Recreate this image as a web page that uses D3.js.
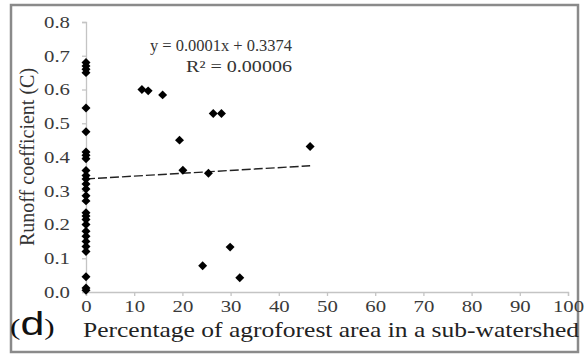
<!DOCTYPE html>
<html>
<head>
<meta charset="utf-8">
<script src="https://cdn.jsdelivr.net/npm/d3@7/dist/d3.min.js"></script>
<style>
  body { margin: 0; background: #fff; }
  svg { display: block; }
</style>
</head>
<body>
<svg id="chart" width="585" height="359"></svg>
<script>
// agroforest share (%) and runoff coefficient
const agroX = [
  0, 0, 0, 0, 0, 0, 0, 0, 0, 0, 0, 0, 0, 0, 0, 0, 0, 0, 0, 0, 0, 0, 0, 0, 0, 0, 0, 0,
  11.6, 12.9, 15.9, 26.4, 28.1, 19.4, 20.1, 25.4, 46.5, 29.9, 24.2, 31.9
];
const runoffC = [
  0.68, 0.67, 0.66, 0.65, 0.545, 0.475, 0.415, 0.405, 0.395, 0.36, 0.345, 0.335,
  0.32, 0.305, 0.285, 0.27, 0.235, 0.225, 0.215, 0.20, 0.18, 0.165, 0.15, 0.135,
  0.12, 0.045, 0.012, 0.005,
  0.600, 0.596, 0.584, 0.529, 0.529, 0.450, 0.361, 0.352, 0.431, 0.133, 0.078, 0.042
];

// trend line endpoints as drawn
const trendX = [0, 46.5];
const trendY = [0.335, 0.374];

const xTicks = [0, 10, 20, 30, 40, 50, 60, 70, 80, 90, 100];
const yTicks = [0, 0.1, 0.2, 0.3, 0.4, 0.5, 0.6, 0.7, 0.8];

const eqText = "y = 0.0001x + 0.3374";
const r2Text = "R² = 0.00006";

const svg = d3.select("#chart");
const SERIF = "Liberation Serif";
const SANS = "Liberation Sans";
const STRETCH = 1.3; // the source picture is squeezed wide

// outer frame
svg.append("rect")
    .attr("x", 11).attr("y", 5)
    .attr("width", 567).attr("height", 347)
    .attr("fill", "none")
    .attr("stroke", "#8a8a8a")
    .attr("stroke-width", 2.5);

const x = d3.scaleLinear().domain([0, 100]).range([86, 568]);
const y = d3.scaleLinear().domain([0, 0.8]).range([292, 22]);

// axes
const yAxis = svg.append("g")
    .attr("transform", `translate(${x(0)},0)`)
    .call(d3.axisLeft(y).tickValues(yTicks).tickSize(4).tickFormat(d3.format(".1f")));

const xAxis = svg.append("g")
    .attr("transform", `translate(0,${y(0)})`)
    .call(d3.axisBottom(x).tickValues(xTicks).tickSize(4));

[xAxis, yAxis].forEach(a => {
    a.attr("font-family", null).attr("font-size", null);
    a.select(".domain").attr("stroke", "#c4c4c4").attr("stroke-width", 1.3);
    a.selectAll(".tick line").attr("stroke", "#c4c4c4").attr("stroke-width", 1.3);
    a.selectAll(".tick text")
        .attr("fill", "#3a3a3a")
        .style("font-family", SERIF)
        .style("font-size", "16px");
});
yAxis.selectAll(".tick text")
    .attr("x", -16 / STRETCH)
    .attr("dy", "0.34em")
    .attr("transform", `scale(${STRETCH},1)`);
xAxis.selectAll(".tick text")
    .attr("y", 20)
    .attr("dy", 0)
    .attr("transform", `scale(${STRETCH},1)`);

// trend line
svg.append("path")
    .datum(trendX.map((d, i) => [d, trendY[i]]))
    .attr("d", d3.line().x(d => x(d[0])).y(d => y(d[1])))
    .attr("fill", "none")
    .attr("stroke", "#222")
    .attr("stroke-width", 1.4)
    .attr("stroke-dasharray", "9,3");

// points
const diamond = d3.symbol().type(d3.symbolSquare).size(40);
svg.append("g")
    .selectAll("path")
    .data(agroX.map((d, i) => [d, runoffC[i]]))
    .join("path")
    .attr("d", diamond)
    .attr("transform", d => `translate(${x(d[0])},${y(d[1])}) rotate(45)`)
    .attr("fill", "#000");

// equation
svg.append("text")
    .attr("x", 150).attr("y", 51)
    .attr("fill", "#333")
    .attr("textLength", 142)
    .attr("lengthAdjust", "spacingAndGlyphs")
    .style("font-family", SERIF)
    .style("font-size", "16px")
    .text(eqText);
svg.append("text")
    .attr("x", 186).attr("y", 72)
    .attr("fill", "#333")
    .attr("textLength", 106)
    .attr("lengthAdjust", "spacingAndGlyphs")
    .style("font-family", SERIF)
    .style("font-size", "16px")
    .text(r2Text);

// axis titles
svg.append("text")
    .attr("transform", "translate(34,157) rotate(-90)")
    .attr("text-anchor", "middle")
    .attr("fill", "#333")
    .style("font-family", SERIF)
    .style("font-size", "20px")
    .text("Runoff coefficient (C)");

svg.append("text")
    .attr("x", 83).attr("y", 337)
    .attr("fill", "#222")
    .attr("textLength", 496)
    .attr("lengthAdjust", "spacingAndGlyphs")
    .style("font-family", SERIF)
    .style("font-size", "22px")
    .text("Percentage of agroforest area in a sub-watershed");

// panel label
const lab = svg.append("text")
    .attr("transform", `translate(10,335) scale(${STRETCH},1)`)
    .attr("fill", "#111");
lab.append("tspan").style("font-family", SERIF).style("font-size", "24px").text("(");
lab.append("tspan").style("font-family", SANS).style("font-size", "33px").text("d");
lab.append("tspan").style("font-family", SERIF).style("font-size", "24px").text(")");
</script>
</body>
</html>
